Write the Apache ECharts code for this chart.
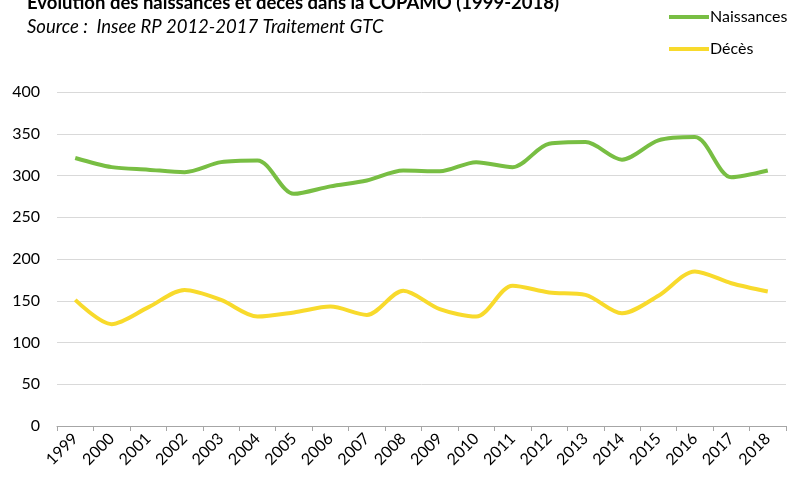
<!DOCTYPE html>
<html>
<head>
<meta charset="utf-8">
<script src="https://cdn.jsdelivr.net/npm/echarts@6/dist/echarts.min.js"></script>
<style>
html,body{margin:0;padding:0;background:#fff;}
#main{width:788px;height:477px;}
</style>
</head>
<body>
<div id="main"></div>
<script>
// données
var annees = ['1999','2000','2001','2002','2003','2004','2005','2006','2007','2008','2009','2010','2011','2012','2013','2014','2015','2016','2017','2018'];
var naissances = [321,310,307,304,316,318,278,287,294,306,305,316,310,338,340,319,342,346,298,306];
var deces = [151,122,142,163,151,131,136,143,133,162,140,131,168,160,157,135,156,185,171,161];
var yTicks = [0,50,100,150,200,250,300,350,400];

var police = 'Lato, "Open Sans", sans-serif';
var chart = echarts.init(document.getElementById('main'));
chart.setOption({
	animation:false,
	title:{
		text:'Evolution des naissances et décès dans la COPAMO (1999-2018)',
		subtext:'Source :  Insee RP 2012-2017 Traitement GTC',
		left:22,
		top:-11,
		itemGap:5,
		textStyle:{fontFamily:police,fontSize:18.5,fontWeight:'bold',color:'#000'},
		subtextStyle:{fontFamily:police,fontSize:18.5,fontStyle:'italic',color:'#000'}
	},
	legend:{
		orient:'vertical',
		left:664,
		top:4,
		itemGap:16,
		itemWidth:40,
		itemHeight:14,
		icon:'path://M0,6 L40,6 L40,10 L0,10 Z',
		textStyle:{fontFamily:police,fontSize:16,color:'#000',padding:[0,0,0,-4]},
		data:['Naissances','Décès']
	},
	grid:{left:57,right:2,top:92,bottom:51},
	xAxis:{
		type:'category',
		data:annees,
		boundaryGap:true,
		axisLine:{lineStyle:{color:'#a6a6a6',width:1}},
		axisTick:{show:true,alignWithLabel:false,length:5,lineStyle:{color:'#a6a6a6'}},
		axisLabel:{rotate:45,fontFamily:police,fontSize:16,color:'#000',margin:10,interval:0}
	},
	yAxis:{
		type:'value',
		min:0,
		max:400,
		interval:50,
		axisLine:{show:false},
		axisTick:{show:false},
		splitLine:{lineStyle:{color:'#d9d9d9',width:1}},
		axisLabel:{
			fontFamily:police,fontSize:16,color:'#000',margin:17,
			formatter:function(v){return yTicks.indexOf(v)>=0 ? String(v) : '';}
		}
	},
	series:[{
		name:'Naissances',
		type:'line',
		data:naissances,
		smooth:0.3,
		symbol:'none',
		lineStyle:{color:'#78be43',width:4},
		itemStyle:{color:'#78be43'}
	},{
		name:'Décès',
		type:'line',
		data:deces,
		smooth:0.3,
		symbol:'none',
		lineStyle:{color:'#f8da2c',width:4},
		itemStyle:{color:'#f8da2c'}
	}]
});
</script>
</body>
</html>
